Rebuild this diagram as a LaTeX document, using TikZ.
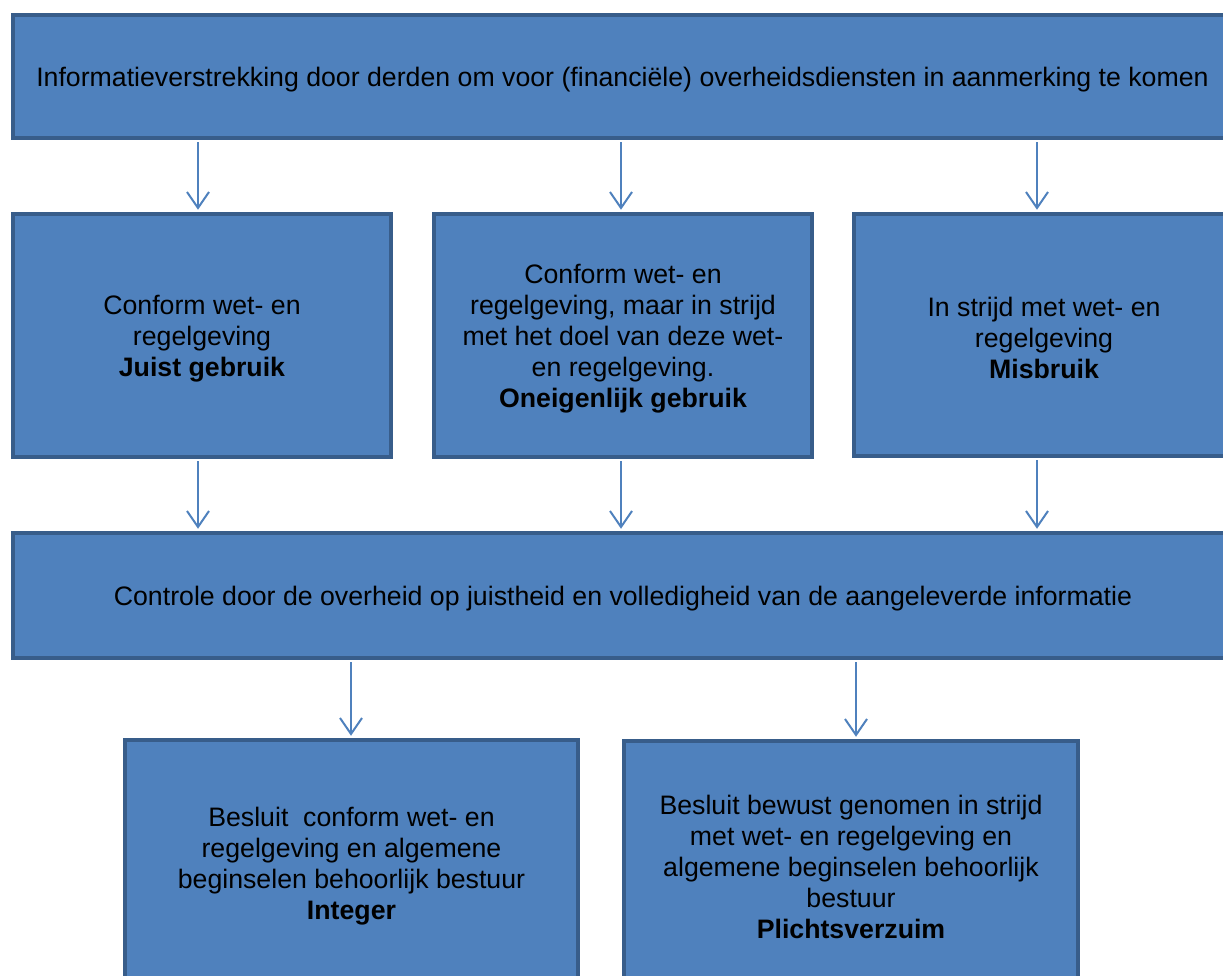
\documentclass[tikz,border=0pt]{standalone}
\usepackage{fontspec}
\setmainfont{Liberation Sans}
\usetikzlibrary{arrows.meta}
\definecolor{boxfill}{HTML}{4F81BD}
\definecolor{boxline}{HTML}{385D8A}
\newcommand\fstrut{\rule{0pt}{26pt}}
\begin{document}
\begin{tikzpicture}[x=1pt,y=-1pt,
  box/.style={draw=boxline, fill=boxfill, line width=4.5pt, rectangle, align=center,
    inner sep=0pt, font=\fontsize{26.7}{31}\selectfont, text=black},
  arr/.style={draw=boxfill, line width=2pt, shorten <=2pt, shorten >=2pt,
    -{Straight Barb[length=16pt,width=22pt]}}]
\useasboundingbox (0,0) rectangle (1223,976);
\clip (0,0) rectangle (1223,976);
\node[box, minimum width=1219pt, minimum height=123pt] (top) at (622.5,76.5)
  {\fstrut Informatieverstrekking door derden om voor (financiële) overheidsdiensten in aanmerking te komen};
\node[box, minimum width=378pt, minimum height=243pt] (m1) at (202,335.5)
  {\fstrut Conform wet- en\\regelgeving\\\textbf{Juist gebruik}};
\node[box, minimum width=378pt, minimum height=243pt] (m2) at (623,335.5)
  {\fstrut Conform wet- en\\regelgeving, maar in strijd\\met het doel van deze wet-\\en regelgeving.\\\textbf{Oneigenlijk gebruik}};
\node[box, minimum width=380pt, minimum height=242pt] (m3) at (1044,335)
  {\fstrut In strijd met wet- en\\regelgeving\\\textbf{Misbruik}};
\node[box, minimum width=1220pt, minimum height=125pt] (ctrl) at (623,595.5)
  {\fstrut Controle door de overheid op juistheid en volledigheid van de aangeleverde informatie};
\node[box, minimum width=453pt, minimum height=246pt] (b1) at (351.5,863)
  {\fstrut Besluit\ \ conform wet- en\\regelgeving en algemene\\beginselen behoorlijk bestuur\\\textbf{Integer}};
\node[box, minimum width=454pt, minimum height=245pt] (b2) at (851,863.5)
  {\fstrut Besluit bewust genomen in strijd\\met wet- en regelgeving en\\algemene beginselen behoorlijk\\bestuur\\\textbf{Plichtsverzuim}};
\coordinate (c1) at (198,0);
\coordinate (c2) at (621,0);
\coordinate (c3) at (1037,0);
\coordinate (c4) at (351,0);
\coordinate (c5) at (856,0);
\draw[arr] (top.south -| c1) -- (m1.north -| c1);
\draw[arr] (top.south -| c2) -- (m2.north -| c2);
\draw[arr] (top.south -| c3) -- (m3.north -| c3);
\draw[arr] (m1.south -| c1) -- (ctrl.north -| c1);
\draw[arr] (m2.south -| c2) -- (ctrl.north -| c2);
\draw[arr] (m3.south -| c3) -- (ctrl.north -| c3);
\draw[arr] (ctrl.south -| c4) -- (b1.north -| c4);
\draw[arr] (ctrl.south -| c5) -- (b2.north -| c5);
\end{tikzpicture}
\end{document}
